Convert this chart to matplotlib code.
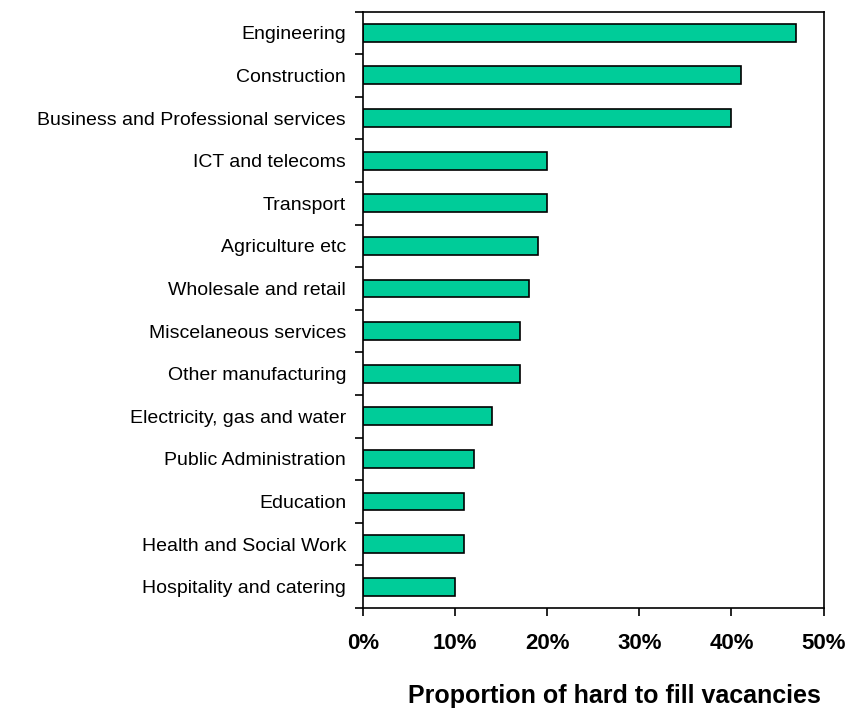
import matplotlib.pyplot as plt
import numpy as np

plt.rcParams['font.family'] = ['Liberation Sans', 'DejaVu Sans']

sectors = ['Engineering', 'Construction', 'Business and Professional services',
           'ICT and telecoms', 'Transport', 'Agriculture etc', 'Wholesale and retail',
           'Miscelaneous services', 'Other manufacturing', 'Electricity, gas and water',
           'Public Administration', 'Education', 'Health and Social Work',
           'Hospitality and catering']
share = [47, 41, 40, 20, 20, 19, 18, 17, 17, 14, 12, 11, 11, 10]

fig = plt.figure(figsize=(8.59, 7.11), dpi=100)
ax = fig.add_axes([0.4226, 0.1448, 0.5361, 0.8390])

n = len(sectors)
pos = np.arange(n)[::-1]
ax.barh(pos, share, height=0.42, color='#00CC99', edgecolor='black', linewidth=1.2)

ax.set_xlim(0, 50)
ax.set_ylim(-0.5, n - 0.5)
ax.set_xticks(np.arange(0, 51, 10))
ax.set_xticklabels([f'{v}%' for v in range(0, 51, 10)], fontsize=16, fontweight='bold')
ax.tick_params(axis='x', direction='out', length=6, width=1.2, pad=12)

# boundary ticks on y, labels at bar centres
ax.set_yticks(np.arange(-0.5, n, 1))
ax.set_yticklabels([])
ax.tick_params(axis='y', which='major', direction='out', length=6, width=1.2)
ax.set_yticks(pos, minor=True)
ax.set_yticklabels(sectors, minor=True, fontsize=14)
ax.tick_params(axis='y', which='minor', length=0, pad=12.2)

for s in ax.spines.values():
    s.set_linewidth(1.2)

ax.set_xlabel('Proportion of hard to fill vacancies', fontsize=18, fontweight='bold')
ax.xaxis.set_label_coords(0.547, -0.127)

fig.savefig('out.png', dpi=100)
